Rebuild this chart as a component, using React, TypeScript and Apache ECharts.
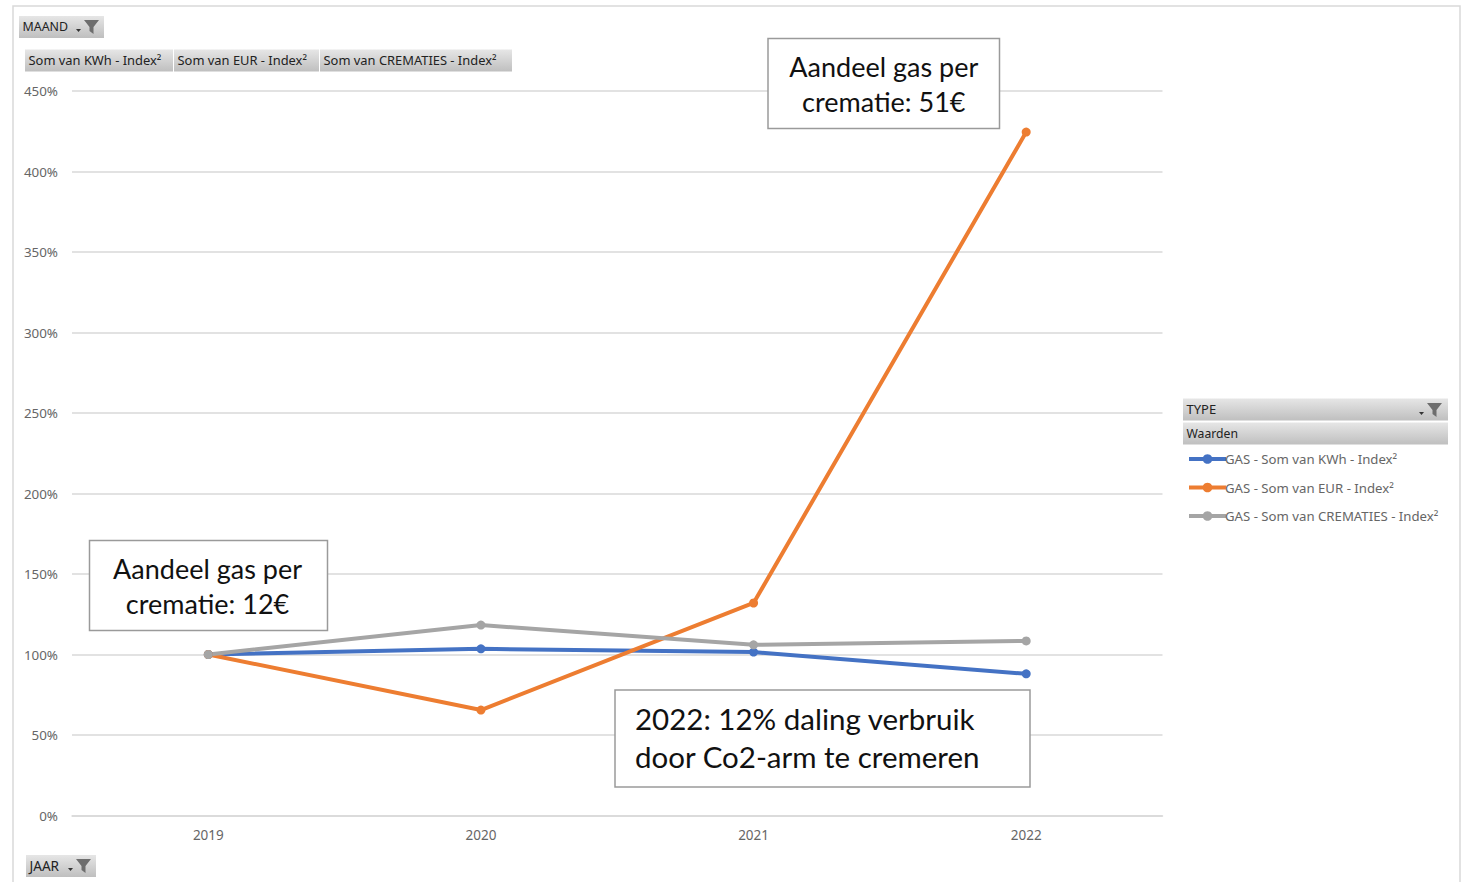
import React, { useEffect, useRef } from "react";
import * as echarts from "echarts";

const years = ["2019", "2020", "2021", "2022"];
const kwh = [100, 103.5, 101.5, 88];
const eur = [100, 65.5, 132, 424.5];
const crematies = [100, 118.3, 106, 108.4];
const seriesNames = ["GAS - Som van KWh - Index²", "GAS - Som van EUR - Index²", "GAS - Som van CREMATIES - Index²"];
const seriesColors = ["#4472C4", "#ED7D31", "#A5A5A5"];
const valueButtons = ["Som van KWh - Index²", "Som van EUR - Index²", "Som van CREMATIES - Index²"];
const notes = ["Aandeel gas per\ncrematie: 51€", "Aandeel gas per\ncrematie: 12€", "2022: 12% daling verbruik\ndoor Co2-arm te cremeren"];

const UI = "'Noto Sans', sans-serif";
const NOTE = "Lato, sans-serif";
const btnFill = () => new echarts.graphic.LinearGradient(0, 0, 0, 1, [
  { offset: 0, color: "#E6E6E6" },
  { offset: 1, color: "#BFBFBF" },
]);

const button = (x: number, y: number, w: number, h: number, label: string, size = 12.9) => [
  { type: "rect", shape: { x, y, width: w, height: h }, style: { fill: btnFill() }, z: 20 },
  { type: "text", x: x + 3.5, y: y + h / 2 - 0.5, style: { text: label, font: `${size}px ${UI}`, fill: "#222", verticalAlign: "middle" }, z: 21 },
];
const funnel = (x: number, y: number) => [
  { type: "polygon", shape: { points: [[x, y], [x + 15, y], [x + 9.5, y + 7], [x + 9.5, y + 14], [x + 5.5, y + 11], [x + 5.5, y + 7]] }, style: { fill: "#6E6E6E" }, z: 22 },
  { type: "polygon", shape: { points: [[x - 8, y + 9], [x - 3, y + 9], [x - 5.5, y + 12]] }, style: { fill: "#333" }, z: 22 },
];
const noteBox = (x: number, y: number, w: number, h: number, label: string, align: string, size: number, lh: number, dx = 0, dy = 0) => [
  { type: "rect", shape: { x, y, width: w, height: h }, style: { fill: "#fff", stroke: "#9A9A9A", lineWidth: 1.5 }, z: 30 },
  {
    type: "text",
    x: (align === "center" ? x + w / 2 : x + 20) + dx,
    y: y + h / 2 + dy,
    style: { text: label, font: `${size}px ${NOTE}`, lineHeight: lh, fill: "#111", align, verticalAlign: "middle" },
    z: 31,
  },
];

export default function App() {
  const ref = useRef<HTMLDivElement>(null);
  useEffect(() => {
    document.body.style.margin = "0";
    const chart = echarts.init(ref.current!, null, { renderer: "svg" });
    const series = [kwh, eur, crematies].map((data, i) => ({
      name: seriesNames[i],
      type: "line",
      data,
      symbol: "circle",
      symbolSize: 9,
      showSymbol: true,
      lineStyle: { color: seriesColors[i], width: 4 },
      itemStyle: { color: seriesColors[i] },
    }));
    chart.setOption({
      animation: false,
      backgroundColor: "#fff",
      grid: { left: 72, right: 305.5, top: 91, bottom: 66.5 },
      xAxis: {
        type: "category",
        data: years,
        boundaryGap: true,
        axisLine: { lineStyle: { color: "#D9D9D9", width: 1.5 } },
        axisTick: { show: false },
        axisLabel: { color: "#666", fontFamily: UI, fontSize: 13.5, margin: 12.5 },
      },
      yAxis: {
        type: "value",
        min: 0,
        max: 450,
        interval: 50,
        axisLine: { show: false },
        axisTick: { show: false },
        splitLine: { lineStyle: { color: "#D9D9D9", width: 1.5 } },
        axisLabel: { color: "#666", fontFamily: UI, fontSize: 13.4, margin: 14, padding: [0, 0, 1.5, 0], formatter: "{value}%" },
      },
      legend: {
        orient: "vertical",
        left: 1187,
        top: 452.5,
        padding: 0,
        itemWidth: 37,
        itemHeight: 12,
        itemGap: 15.5,
        data: seriesNames,
        lineStyle: { width: 4 },
        textStyle: { color: "#666", fontFamily: UI, fontSize: 13.2, padding: [0, 0, 0, -6] },
      },
      series,
      graphic: {
        elements: [
          { type: "rect", shape: { x: 13, y: 6, width: 1447, height: 890 }, style: { fill: "none", stroke: "#D9D9D9", lineWidth: 1.5 }, z: 1 },
          ...button(19, 16, 85, 22, "MAAND", 12.4),
          ...funnel(84, 20),
          ...button(25, 49.5, 148, 22, valueButtons[0]),
          ...button(174, 49.5, 145, 22, valueButtons[1]),
          ...button(320, 49.5, 192, 22, valueButtons[2]),
          ...button(26, 855, 70, 22, "JAAR", 13.6),
          ...funnel(76, 859),
          ...button(1183, 398.5, 265, 22, "TYPE", 13),
          ...funnel(1427, 403),
          ...button(1183, 422.5, 265, 22, "Waarden", 12.2),
          ...noteBox(768, 38.5, 231.5, 90, notes[0], "center", 27, 35),
          ...noteBox(89.5, 540.5, 238, 90, notes[1], "center", 27, 35, -1),
          ...noteBox(615, 690, 415, 97, notes[2], "left", 29.5, 38, 0, -1),
        ],
      },
    });
    return () => chart.dispose();
  }, []);
  return <div ref={ref} style={{ width: 1468, height: 882, overflow: "hidden" }} />;
}
